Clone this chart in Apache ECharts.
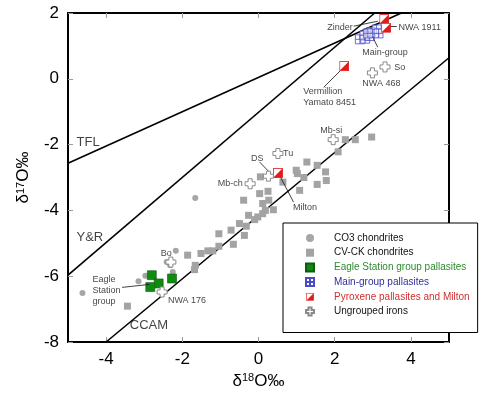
<!DOCTYPE html>
<html>
<head>
<meta charset="utf-8">
<script src="https://cdn.jsdelivr.net/npm/echarts@6/dist/echarts.min.js"></script>
<style>
html,body{margin:0;padding:0;background:#fff;}
#chart{width:483px;height:401px;}
</style>
</head>
<body>
<div id="chart"></div>
<script>
// ---- data (delta18O, delta17O) ----
const xTicks = [-4, -2, 0, 2, 4];
const yTicks = [-8, -6, -4, -2, 0, 2];

const co3 = [[-1.66,-3.62],[-2.17,-5.23],[-2.41,-5.57],[-2.32,-5.67],[-2.25,-5.87],[-2.97,-5.99],[-3.15,-6.15],[-4.62,-6.51]];

const cvck = [[2.97,-1.77],[2.54,-1.85],[2.28,-1.85],[2.09,-2.22],[1.27,-2.53],[1.54,-2.63],[0.99,-2.78],[1.02,-2.88],
  [1.76,-2.83],[1.19,-3.0],[1.78,-3.09],[1.54,-3.21],[1.08,-3.39],[0.05,-2.98],[0.64,-3.14],[0.03,-3.49],[0.25,-3.42],
  [0.27,-3.69],[-0.39,-3.69],[0.11,-3.79],[0.39,-3.98],[0.18,-4.0],[0.11,-4.1],[-0.02,-4.2],[-0.26,-4.15],[-0.1,-4.28],
  [-0.32,-4.48],[-0.5,-4.4],[-0.72,-4.6],[-1.04,-4.71],[-0.37,-4.76],[-0.66,-5.03],[-1.04,-5.09],[-1.2,-5.23],
  [-1.33,-5.23],[-1.51,-5.31],[-1.86,-5.36],[-1.66,-5.67],[-1.68,-5.8],[-3.44,-6.91]];

const eagleStation = [[-2.8,-5.97],[-2.62,-6.22],[-2.84,-6.33],[-2.27,-6.07]];

const mainGroup = [[2.66,1.2],[2.8,1.22],[2.78,1.32],[2.92,1.3],[2.95,1.42],[3.05,1.4],[3.1,1.5],[2.87,1.38],[3.15,1.38]];

const pyroxene = [[3.3,1.82],[3.35,1.55],[2.25,0.39],[0.51,-2.86]];

const ungroupedIrons = [[-2.3,-5.57],[-2.53,-6.48],[-0.22,-3.19],[0.26,-2.96],[0.51,-2.27],[1.96,-1.85],[3.32,0.36],[2.99,0.18]];

const tfl = [[-5,-2.57],[3.75,2]];
const yr = [[-5,-5.97],[3.05,2]];
const ccam = [[-4,-8],[5,0.64]];

// text anchors (left-middle of label) in data units
const pointNotes = [
  [1.79,1.57,'Zinder'],[3.66,1.57,'NWA 1911'],[2.71,0.81,'Main-group'],
  [1.16,-0.38,'Vermillion'],[1.16,-0.71,'Yamato 8451'],[3.55,0.35,'So'],[2.71,-0.14,'NWA 468'],
  [1.61,-1.57,'Mb-si'],[0.63,-2.26,'Tu'],[-0.21,-2.42,'DS'],[-1.08,-3.18,'Mb-ch'],[0.89,-3.91,'Milton'],
  [-2.58,-5.3,'Bo'],[-4.37,-6.09,'Eagle'],[-4.37,-6.43,'Station'],[-4.37,-6.76,'group'],[-2.39,-6.73,'NWA 176']
];
const lineNotes = [[-4.79,-1.93,'TFL'],[-4.79,-4.82,'Y&R'],[-3.39,-7.49,'CCAM']];

const leaders = [
  [[2.5,1.6],[3.13,1.75]],
  [[3.42,1.6],[3.63,1.6]],
  [[3.0,1.26],[3.13,0.96]],
  [[2.16,0.26],[1.71,-0.26]],
  [[0.03,-2.53],[0.32,-2.88]],
  [[0.55,-2.93],[0.92,-3.75]],
  [[-3.58,-6.34],[-2.87,-6.25]]
];

// ---- symbols ----
const RED = '#e01b1b';
const splitSvg = "<svg xmlns='http://www.w3.org/2000/svg' width='20' height='20' viewBox='0 0 20 20'>" +
  "<rect x='1' y='1' width='18' height='18' fill='#ffffff' stroke='" + RED + "' stroke-width='1.6'/>" +
  "<polygon points='19,1 19,19 1,19' fill='" + RED + "'/></svg>";
const splitSymbol = 'image://data:image/svg+xml;charset=utf-8,' + encodeURIComponent(splitSvg);
const gridSymbol = 'path://M0,0H12V12H0Z M0,6H12 M6,0V12';
const crossSymbol = 'path://M3,0H7V3H10V7H7V10H3V7H0V3H3Z';

const FONT = 'Liberation Sans, Arial, sans-serif';

const chart = echarts.init(document.getElementById('chart'), null, {renderer:'canvas'});

function refLine(data) {
  return {type:'line', data:data, symbol:'none', silent:true, z:1, clip:true,
    lineStyle:{color:'#000', width:1.6}, emphasis:{disabled:true}};
}
function noteSeries(data, size) {
  return {type:'scatter', data:data, symbolSize:1, silent:true, z:5,
    itemStyle:{color:'rgba(0,0,0,0)'},
    label:{show:true, position:'right', distance:0, color:'#111', fontSize:size, fontFamily:FONT,
      formatter: p => p.data[2]}};
}

const nameRich = {
  d:{fontSize:17, fontFamily:FONT, color:'#000', lineHeight:17, verticalAlign:'bottom'},
  s:{fontSize:11, fontFamily:FONT, color:'#000', lineHeight:11, verticalAlign:'top'}
};

chart.setOption({
  animation:false,
  backgroundColor:'#fff',
  grid:{left:68, right:34, top:13, bottom:59, show:false},
  xAxis:[{
    type:'value', min:-5, max:5, position:'bottom',
    name:'{d|δ}{s|18}{d|O‰}', nameLocation:'middle', nameGap:30,
    nameTextStyle:{rich:nameRich, lineHeight:26},
    axisLine:{show:true, onZero:false, lineStyle:{color:'#000', width:2}},
    axisTick:{show:true, inside:true, length:5, customValues:xTicks, lineStyle:{color:'#999', width:1}},
    axisLabel:{show:true, customValues:xTicks, margin:9, fontSize:17, fontFamily:FONT, color:'#000'},
    splitLine:{show:false}
  },{
    type:'value', min:-5, max:5, position:'top',
    axisLine:{show:true, onZero:false, lineStyle:{color:'#000', width:2}},
    axisTick:{show:true, inside:true, length:5, customValues:xTicks, lineStyle:{color:'#999', width:1}},
    axisLabel:{show:false}, splitLine:{show:false}
  }],
  yAxis:[{
    type:'value', min:-8, max:2, interval:2, position:'left',
    name:'{d|δ}{s|17}{d|O‰}', nameLocation:'middle', nameGap:36,
    nameTextStyle:{rich:nameRich, lineHeight:26},
    axisLine:{show:true, onZero:false, lineStyle:{color:'#000', width:2}},
    axisTick:{show:true, inside:true, length:5, lineStyle:{color:'#999', width:1}},
    axisLabel:{show:true, margin:9, fontSize:17, fontFamily:FONT, color:'#000'},
    splitLine:{show:false}
  },{
    type:'value', min:-8, max:2, interval:2, position:'right',
    axisLine:{show:true, onZero:false, lineStyle:{color:'#000', width:2}},
    axisTick:{show:true, inside:true, length:5, lineStyle:{color:'#999', width:1}},
    axisLabel:{show:false}, splitLine:{show:false}
  }],
  legend:{
    orient:'vertical', left:283, top:223,
    padding:[10,8,16,22], itemGap:4.7, itemWidth:8, itemHeight:8,
    backgroundColor:'#fff', borderColor:'#000', borderWidth:1,
    textStyle:{fontSize:10, fontFamily:FONT, color:'#111', lineHeight:10, padding:[0,0,0,15]},
    data:[
      {name:'CO3 chondrites'},
      {name:'CV-CK chondrites'},
      {name:'Eagle Station group pallasites', textStyle:{color:'#2e8b2e'}},
      {name:'Main-group pallasites', textStyle:{color:'#2f2f9c'}},
      {name:'Pyroxene pallasites and Milton', textStyle:{color:'#d03030'}},
      {name:'Ungrouped irons'}
    ],
    selectedMode:false
  },
  series:[
    refLine(tfl), refLine(yr), refLine(ccam),
    {name:'CO3 chondrites', type:'scatter', data:co3, symbol:'circle', symbolSize:6, z:3,
      itemStyle:{color:'#a6a6a6', opacity:1}},
    {name:'CV-CK chondrites', type:'scatter', data:cvck, symbol:'rect', symbolSize:7, z:3,
      itemStyle:{color:'#a3a3a3', opacity:1}},
    {name:'Eagle Station group pallasites', type:'scatter', data:eagleStation, symbol:'rect', symbolSize:9, z:3,
      itemStyle:{color:'#108a10', borderColor:'#0b5e0b', borderWidth:0.6, opacity:1}},
    {name:'Main-group pallasites', type:'scatter', data:mainGroup, symbol:gridSymbol, symbolSize:9, z:3,
      itemStyle:{color:'rgba(255,255,255,0.55)', borderColor:'#4b4bc8', borderWidth:0.8, opacity:1}},
    {name:'Pyroxene pallasites and Milton', type:'scatter', data:pyroxene, symbol:splitSymbol, symbolSize:10, z:4,
      itemStyle:{color:RED, opacity:1}},
    {name:'Ungrouped irons', type:'scatter', data:ungroupedIrons, symbol:crossSymbol, symbolSize:10, z:4,
      itemStyle:{color:'#ffffff', borderColor:'#8a8a8a', borderWidth:1, opacity:1}},
    {type:'lines', coordinateSystem:'cartesian2d', silent:true, z:4,
      data:leaders.map(c => ({coords:c})),
      lineStyle:{color:'#111', width:0.8, opacity:1}},
    noteSeries(pointNotes, 9),
    noteSeries(lineNotes, 13)
  ]
});
</script>
</body>
</html>
